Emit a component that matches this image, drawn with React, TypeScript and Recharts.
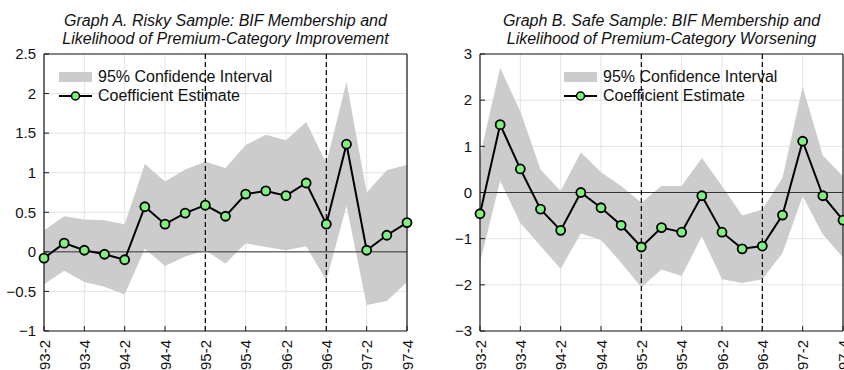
import {
  ComposedChart,
  Area,
  Line,
  XAxis,
  YAxis,
  CartesianGrid,
  ReferenceLine,
} from "recharts";

const quarters = [
  "93-2", "93-3", "93-4", "94-1", "94-2", "94-3", "94-4", "95-1", "95-2", "95-3",
  "95-4", "96-1", "96-2", "96-3", "96-4", "97-1", "97-2", "97-3", "97-4",
];
const shownQuarters = quarters.filter((_, i) => i % 2 === 0);
const breakQuarters = ["95-2", "96-4"];

// Graph A: risky sample, improvement
const riskyCoef = [
  -0.08, 0.11, 0.02, -0.03, -0.1, 0.57, 0.35, 0.49, 0.59, 0.45,
  0.73, 0.77, 0.71, 0.87, 0.35, 1.36, 0.02, 0.21, 0.37,
];
const riskyLow = [
  -0.41, -0.24, -0.38, -0.44, -0.54, 0.04, -0.18, -0.06, 0.02, -0.15,
  0.11, 0.06, 0.02, 0.07, -0.36, 0.58, -0.67, -0.62, -0.38,
];
const riskyHigh = [
  0.27, 0.45, 0.41, 0.4, 0.35, 1.11, 0.89, 1.04, 1.14, 1.06,
  1.35, 1.48, 1.41, 1.64, 1.12, 2.15, 0.75, 1.03, 1.1,
];
const riskyTicks = [-1, -0.5, 0, 0.5, 1, 1.5, 2, 2.5];

// Graph B: safe sample, worsening
const safeCoef = [
  -0.46, 1.47, 0.51, -0.36, -0.82, 0.0, -0.33, -0.71, -1.18, -0.76,
  -0.86, -0.07, -0.86, -1.22, -1.16, -0.49, 1.11, -0.07, -0.6,
];
const safeLow = [
  -1.52, 0.25, -0.66, -1.16, -1.65, -0.89, -1.03, -1.52, -2.05, -1.67,
  -1.81, -0.95, -1.88, -1.96, -1.88, -1.31, -0.08, -0.91, -1.41,
];
const safeHigh = [
  0.79, 2.7, 1.76, 0.5, 0.03, 0.87, 0.44, 0.14, -0.22, 0.14,
  0.14, 0.75, 0.14, -0.5, -0.37, 0.32, 2.29, 0.8, 0.35,
];
const safeTicks = [-3, -2, -1, 0, 1, 2, 3];

const FONT = "'Liberation Sans', Arial, Helvetica, sans-serif";
const CI_FILL = "#cccccc";
const DOT_FILL = "#80f080";
const AXIS = "#1a1a1a";

const fmt = (v: number) => (v < 0 ? `\u2212${Math.abs(v)}` : `${v}`);

const QuarterTick = (props: any) => {
  const { x, y, payload } = props;
  return (
    <text
      x={x}
      y={y}
      transform={`rotate(-90 ${x} ${y})`}
      textAnchor="end"
      dominantBaseline="central"
      fontSize={15}
      fontFamily={FONT}
      fill="#111"
    >
      {payload.value}
    </text>
  );
};

const LegendBox = ({ left }: { left: number }) => (
  <div
    style={{
      position: "absolute",
      top: 67,
      left,
      fontFamily: FONT,
      fontSize: 16,
      color: "#111",
      lineHeight: "19px",
      whiteSpace: "nowrap",
    }}
  >
    <div style={{ display: "flex", alignItems: "center" }}>
      <svg width={33} height={10} style={{ marginRight: 6 }}>
        <rect x={0} y={0} width={33} height={10} fill={CI_FILL} />
      </svg>
      95% Confidence Interval
    </div>
    <div style={{ display: "flex", alignItems: "center" }}>
      <svg width={33} height={12} style={{ marginRight: 6 }}>
        <line x1={0} y1={6} x2={33} y2={6} stroke="#000" strokeWidth={2} />
        <circle cx={16.5} cy={6} r={4} fill={DOT_FILL} stroke="#000" strokeWidth={1.5} />
      </svg>
      Coefficient Estimate
    </div>
  </div>
);

function Panel({
  title,
  coef,
  low,
  high,
  yTicks,
  left,
  yWidth,
  marginRight,
  legendLeft,
}: {
  title: string[];
  coef: number[];
  low: number[];
  high: number[];
  yTicks: number[];
  left: number;
  yWidth: number;
  marginRight: number;
  legendLeft: number;
}) {
  const data = quarters.map((q, i) => ({ q, coef: coef[i], ci: [low[i], high[i]] }));
  const domain = [yTicks[0], yTicks[yTicks.length - 1]];
  const width = 422;
  const plotLeft = yWidth;
  const plotRight = width - marginRight;

  return (
    <div style={{ position: "absolute", left, top: 0, width, height: 370 }}>
      <div
        style={{
          position: "absolute",
          top: 12,
          left: plotLeft - 60,
          width: plotRight - plotLeft + 120,
          textAlign: "center",
          fontFamily: FONT,
          fontStyle: "italic",
          fontSize: 16,
          lineHeight: "18px",
          color: "#111",
        }}
      >
        {title.map((t) => (
          <div key={t}>{t}</div>
        ))}
      </div>
      <ComposedChart
        width={width}
        height={370}
        data={data}
        margin={{ top: 54, right: marginRight, left: 0, bottom: 0 }}
      >
        <CartesianGrid stroke="#e3e3e3" strokeWidth={1} />
        <XAxis
          dataKey="q"
          ticks={shownQuarters}
          interval={0}
          height={39}
          tick={<QuarterTick />}
          tickLine={{ stroke: AXIS }}
          tickSize={-5}
          tickMargin={14}
          axisLine={{ stroke: AXIS, strokeWidth: 1.2 }}
        />
        <XAxis
          xAxisId="top"
          dataKey="q"
          orientation="top"
          ticks={shownQuarters}
          interval={0}
          height={0}
          tick={false}
          tickSize={-5}
          tickLine={{ stroke: AXIS }}
          axisLine={{ stroke: AXIS, strokeWidth: 1.2 }}
        />
        <YAxis
          type="number"
          domain={domain}
          ticks={yTicks}
          width={yWidth}
          tickFormatter={fmt}
          tickLine={{ stroke: AXIS }}
          tickSize={-5}
          tickMargin={13}
          tick={{ fontSize: 15, fontFamily: FONT, fill: "#111" }}
          axisLine={{ stroke: AXIS, strokeWidth: 1.2 }}
          allowDataOverflow
        />
        <YAxis
          yAxisId="right"
          type="number"
          orientation="right"
          domain={domain}
          ticks={yTicks}
          width={0}
          tick={false}
          tickSize={-5}
          tickLine={{ stroke: AXIS }}
          axisLine={{ stroke: AXIS, strokeWidth: 1.2 }}
        />
        <Area
          dataKey="ci"
          type="linear"
          fill={CI_FILL}
          fillOpacity={1}
          stroke="none"
          isAnimationActive={false}
        />
        <ReferenceLine y={0} stroke="#333" strokeWidth={1} />
        <ReferenceLine y={domain[1]} stroke={AXIS} strokeWidth={1.2} />
        <ReferenceLine x={quarters[quarters.length - 1]} stroke={AXIS} strokeWidth={1.2} />
        {breakQuarters.map((b) => (
          <ReferenceLine key={b} x={b} stroke="#000" strokeWidth={1.2} strokeDasharray="5 3" />
        ))}
        <Line
          dataKey="coef"
          type="linear"
          stroke="#000"
          strokeWidth={2}
          dot={{ r: 4.5, fill: DOT_FILL, stroke: "#000", strokeWidth: 1.8 }}
          isAnimationActive={false}
        />
      </ComposedChart>
      <LegendBox left={legendLeft} />
    </div>
  );
}

export default function App() {
  return (
    <div style={{ position: "absolute", left: 0, top: 0, width: 844, height: 370, background: "#fff", overflow: "hidden" }}>
      <Panel
        title={["Graph A. Risky Sample: BIF Membership and", "Likelihood of Premium-Category Improvement"]}
        coef={riskyCoef}
        low={riskyLow}
        high={riskyHigh}
        yTicks={riskyTicks}
        left={0}
        yWidth={44}
        marginRight={15}
        legendLeft={59}
      />
      <Panel
        title={["Graph B. Safe Sample: BIF Membership and", "Likelihood of Premium-Category Worsening"]}
        coef={safeCoef}
        low={safeLow}
        high={safeHigh}
        yTicks={safeTicks}
        left={422}
        yWidth={58}
        marginRight={1}
        legendLeft={142}
      />
    </div>
  );
}
